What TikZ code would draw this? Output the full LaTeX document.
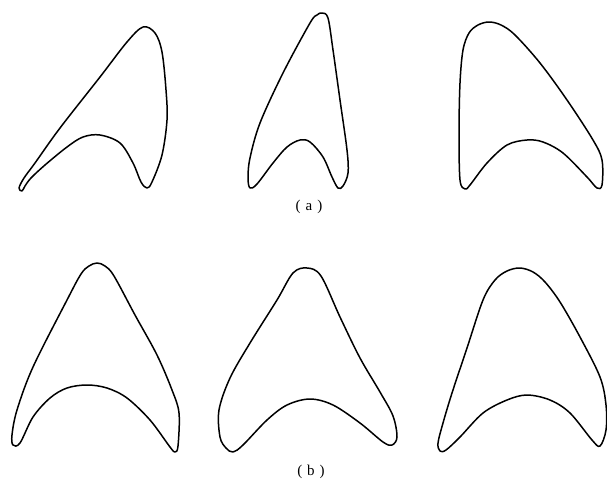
\documentclass[tikz,border=0pt]{standalone}
\usepackage{fontspec}
\setmainfont{Liberation Serif}

\tikzset{
  outline/.style={black, line width=1.5pt, line join=round},
  caption/.style={font=\fontsize{15}{17}\selectfont, inner sep=0pt}
}

\begin{document}
\begin{tikzpicture}[x=1pt,y=-1pt]
\useasboundingbox (0,0) rectangle (607,485);
% row (a)
\draw[outline] plot[smooth cycle, tension=0.55] coordinates {
  (143,27) (155,33) (162,52) (166,90) (167,120) (162,155) (152,182) (147,188)
  (141,182) (133,163) (120,143) (100,135) (83,137) (67,147) (45,165) (31,178)
  (25,186) (22,191) (19,188) (24,178) (35,163) (60,128) (100,77) (127,42)};
\draw[outline] plot[smooth cycle, tension=0.55] coordinates {
  (322,13) (328,18) (333,50) (340,100) (347,150) (348,173) (343,186) (338,188)
  (332,177) (323,157) (310,142) (300,140) (287,147) (273,163) (257,184) (250,188)
  (248,178) (250,158) (260,123) (283,73) (310,23) (317,15)};
\draw[outline] plot[smooth cycle, tension=0.55] coordinates {
  (489,22) (501,25) (515,35) (540,63) (567,100) (593,140) (602,160) (602,185)
  (597,188) (587,177) (563,153) (543,142) (527,140) (507,145) (487,163) (470,185)
  (465,189) (460,180) (459,133) (460,83) (463,50) (469,33) (478,25)};
\node[caption] (capa) at (309,207) {(\,\,a\,\,)};
% row (b)
\draw[outline] plot[smooth cycle, tension=0.55] coordinates {
  (97,263) (105,266) (114,276) (135,315) (157,355) (172,390) (179,413) (178,446)
  (175,452) (170,447) (150,420) (127,398) (107,388) (87,385) (67,388) (50,398)
  (33,417) (20,443) (13,445) (12,435) (17,410) (33,367) (67,300) (81,274) (89,266)};
\draw[outline] plot[smooth cycle, tension=0.55] coordinates {
  (307,268) (321,276) (340,317) (360,358) (380,392) (393,416) (397,437)
  (392,445) (383,442) (360,423) (333,405) (310,399) (287,405) (267,420) (243,445)
  (233,452) (226,448) (220,437) (219,410) (230,378) (250,343) (277,300) (293,273)};
\draw[outline] plot[smooth cycle, tension=0.55] coordinates {
  (520,268) (533,272) (545,282) (560,302) (580,337) (600,377) (606,405) (606,430)
  (600,446) (592,440) (570,413) (550,400) (527,395) (507,400) (483,413) (460,437)
  (446,450) (440,451) (438,443) (443,423) (452,393) (467,348) (483,300) (495,280)
  (507,271)};
\node[caption] (capb) at (311,472) {(\,\,b\,\,)};
\end{tikzpicture}
\end{document}
